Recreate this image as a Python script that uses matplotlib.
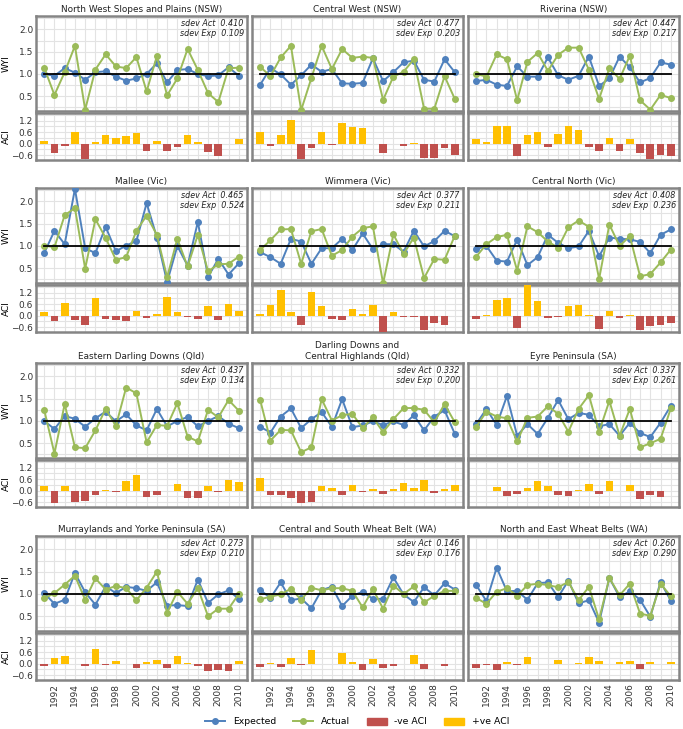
import matplotlib
matplotlib.use('Agg')
import matplotlib.pyplot as plt
from matplotlib.lines import Line2D
from matplotlib.patches import Patch
from matplotlib.ticker import MultipleLocator

years = list(range(1991, 2011))

titles = [
    'North West Slopes and Plains (NSW)', 'Central West (NSW)', 'Riverina (NSW)',
    'Mallee (Vic)', 'Wimmera (Vic)', 'Central North (Vic)',
    'Eastern Darling Downs (Qld)', 'Darling Downs and\nCentral Highlands (Qld)', 'Eyre Peninsula (SA)',
    'Murraylands and Yorke Peninsula (SA)', 'Central and South Wheat Belt (WA)', 'North and East Wheat Belts (WA)',
]
sdev_act = [0.410, 0.477, 0.447, 0.465, 0.377, 0.408, 0.437, 0.332, 0.337, 0.273, 0.146, 0.260]
sdev_exp = [0.109, 0.203, 0.217, 0.524, 0.211, 0.236, 0.134, 0.200, 0.261, 0.210, 0.176, 0.290]

# expected / actual wheat yield index and ACI per region
nw_exp = [1.00, 0.96, 1.13, 1.03, 0.87, 1.04, 1.06, 0.94, 0.85, 0.90, 1.00, 1.24, 0.81, 1.09, 1.11, 1.00, 0.95, 0.97, 1.15, 0.96]
nw_act = [1.14, 0.53, 1.04, 1.63, 0.20, 1.10, 1.44, 1.17, 1.13, 1.38, 0.61, 1.40, 0.52, 0.90, 1.56, 1.09, 0.57, 0.37, 1.13, 1.14]
nw_aci = [0.16, -0.47, -0.11, 0.63, -0.80, 0.09, 0.43, 0.29, 0.38, 0.57, -0.38, 0.16, -0.36, -0.16, 0.43, 0.11, -0.41, -0.63, -0.04, 0.25]

cw_exp = [0.76, 1.13, 0.99, 0.76, 0.97, 1.21, 1.05, 1.11, 0.79, 0.78, 0.80, 1.35, 0.84, 1.04, 1.26, 1.30, 0.87, 0.83, 1.33, 1.04]
cw_act = [1.16, 0.95, 1.37, 1.63, 0.19, 0.91, 1.63, 1.11, 1.56, 1.36, 1.39, 1.36, 0.42, 0.94, 1.05, 1.33, 0.22, 0.22, 0.95, 0.44]
cw_aci = [0.59, -0.11, 0.45, 1.25, -0.82, -0.21, 0.63, -0.05, 1.09, 0.86, 0.81, 0.00, -0.50, -0.04, -0.14, 0.03, -0.73, -0.73, -0.25, -0.57]

riv_exp = [0.84, 0.87, 0.76, 0.73, 1.17, 0.94, 0.94, 1.37, 0.97, 0.87, 0.96, 1.39, 0.73, 0.90, 1.39, 1.15, 0.81, 0.91, 1.26, 1.21]
riv_act = [1.00, 0.94, 1.44, 1.33, 0.41, 1.27, 1.47, 1.07, 1.43, 1.59, 1.59, 1.10, 0.44, 1.13, 0.89, 1.41, 0.41, 0.20, 0.53, 0.46]
riv_aci = [0.22, 0.11, 0.93, 0.90, -0.65, 0.43, 0.63, -0.18, 0.52, 0.90, 0.72, -0.18, -0.38, 0.30, -0.36, 0.25, -0.50, -0.80, -0.59, -0.63]

mal_exp = [0.84, 1.34, 1.04, 2.28, 0.95, 0.84, 1.43, 0.88, 1.01, 1.11, 1.96, 1.19, 0.19, 1.00, 0.56, 1.54, 0.31, 0.71, 0.36, 0.61]
mal_act = [1.01, 0.97, 1.69, 1.85, 0.49, 1.60, 1.18, 0.69, 0.75, 1.34, 1.68, 1.25, 0.30, 1.16, 0.54, 1.25, 0.43, 0.59, 0.60, 0.76]
mal_aci = [0.18, -0.30, 0.65, -0.21, -0.51, 0.92, -0.19, -0.25, -0.26, 0.23, -0.14, 0.07, 0.97, 0.18, -0.07, -0.19, 0.48, -0.21, 0.62, 0.23]

wim_exp = [0.86, 0.75, 0.60, 1.16, 1.10, 0.60, 0.95, 0.95, 1.16, 0.91, 1.28, 0.93, 1.04, 1.04, 0.87, 1.34, 0.99, 1.11, 1.34, 1.22]
wim_act = [0.91, 1.13, 1.37, 1.38, 0.60, 1.33, 1.38, 0.78, 0.91, 1.21, 1.40, 1.44, 0.16, 1.26, 0.82, 1.19, 0.28, 0.71, 0.69, 1.23]
wim_aci = [0.07, 0.55, 1.32, 0.18, -0.46, 1.25, 0.48, -0.18, -0.23, 0.34, 0.11, 0.56, -0.90, 0.19, -0.05, -0.09, -0.74, -0.37, -0.49, 0.01]

cn_exp = [0.93, 1.00, 0.67, 0.65, 1.14, 0.57, 0.75, 1.25, 1.07, 0.95, 0.99, 1.34, 0.77, 1.19, 1.16, 1.15, 1.09, 0.84, 1.25, 1.37]
cn_act = [0.76, 1.04, 1.20, 1.25, 0.45, 1.44, 1.31, 1.10, 0.96, 1.42, 1.57, 1.43, 0.26, 1.48, 1.00, 1.22, 0.32, 0.37, 0.63, 0.92]
cn_aci = [-0.18, 0.05, 0.81, 0.93, -0.63, 1.65, 0.76, -0.12, -0.09, 0.49, 0.58, 0.05, -0.69, 0.25, -0.14, 0.05, -0.72, -0.56, -0.51, -0.37]

edd_exp = [1.00, 0.82, 1.11, 1.05, 0.87, 1.06, 1.21, 0.99, 1.15, 0.90, 0.79, 1.27, 0.88, 1.00, 1.09, 0.88, 1.00, 1.11, 0.94, 0.84]
edd_act = [1.25, 0.27, 1.38, 0.41, 0.39, 0.79, 1.27, 0.89, 1.75, 1.62, 0.52, 0.91, 0.89, 1.40, 0.65, 0.54, 1.25, 1.08, 1.47, 1.23]
edd_aci = [0.25, -0.63, 0.25, -0.58, -0.53, -0.23, 0.03, -0.08, 0.50, 0.82, -0.33, -0.25, 0.01, 0.37, -0.38, -0.38, 0.25, -0.05, 0.55, 0.45]

ddc_exp = [0.87, 0.74, 1.10, 1.28, 0.84, 1.04, 1.20, 0.87, 1.49, 0.86, 0.90, 0.99, 0.91, 0.99, 0.91, 1.13, 0.79, 1.10, 1.24, 0.71]
ddc_act = [1.47, 0.56, 0.80, 0.79, 0.30, 0.41, 1.49, 1.01, 1.13, 1.16, 0.84, 1.08, 0.75, 1.04, 1.29, 1.29, 1.25, 0.97, 1.38, 0.97]
ddc_aci = [0.65, -0.23, -0.23, -0.38, -0.63, -0.60, 0.23, 0.15, -0.22, 0.32, -0.07, 0.08, -0.17, 0.07, 0.40, 0.12, 0.57, -0.12, 0.08, 0.30]

eyre_exp = [0.93, 1.27, 0.91, 1.56, 0.67, 0.93, 0.71, 1.07, 1.47, 1.04, 1.18, 1.14, 0.88, 0.93, 0.67, 0.96, 0.73, 0.64, 0.96, 1.34]
eyre_act = [0.87, 1.21, 1.10, 1.06, 0.54, 1.07, 1.10, 1.33, 1.16, 0.76, 1.27, 1.58, 0.76, 1.45, 0.67, 1.27, 0.41, 0.50, 0.60, 1.28]
eyre_aci = [-0.03, -0.03, 0.20, -0.30, -0.18, 0.13, 0.52, 0.23, -0.20, -0.27, 0.05, 0.37, -0.15, 0.53, -0.02, 0.32, -0.42, -0.20, -0.33, -0.02]

mur_exp = [1.02, 0.78, 0.87, 1.47, 1.04, 0.76, 1.17, 1.02, 1.16, 1.13, 1.07, 1.26, 0.74, 0.75, 0.73, 1.32, 0.80, 0.99, 1.08, 0.89]
mur_act = [0.90, 1.02, 1.21, 1.41, 0.87, 1.35, 1.10, 1.18, 1.13, 0.86, 1.14, 1.50, 0.58, 1.05, 0.78, 1.13, 0.50, 0.67, 0.67, 1.00]
mur_aci = [-0.10, 0.32, 0.39, -0.03, -0.12, 0.78, -0.05, 0.16, -0.02, -0.25, 0.07, 0.19, -0.21, 0.41, 0.05, -0.12, -0.37, -0.34, -0.37, 0.12]

csw_exp = [1.09, 0.91, 1.26, 0.86, 0.90, 0.68, 1.09, 1.16, 0.73, 0.96, 1.05, 0.89, 0.89, 1.37, 0.99, 0.82, 1.15, 0.97, 1.24, 1.10]
csw_act = [0.88, 0.94, 0.99, 1.12, 0.87, 1.14, 1.08, 1.13, 1.13, 1.07, 0.70, 1.11, 0.67, 1.19, 1.00, 1.17, 0.81, 0.96, 1.07, 1.07]
csw_aci = [-0.16, 0.05, -0.16, 0.32, -0.07, 0.71, -0.04, -0.04, 0.55, 0.11, -0.32, 0.25, -0.25, -0.12, 0.00, 0.46, -0.30, 0.00, -0.14, 0.00]

new_exp = [1.20, 0.84, 1.59, 1.06, 1.07, 0.87, 1.24, 1.26, 0.93, 1.30, 0.79, 0.86, 0.36, 1.36, 0.93, 1.06, 0.87, 0.49, 1.27, 0.85]
new_act = [0.91, 0.78, 1.05, 1.13, 0.96, 1.20, 1.23, 1.20, 1.15, 1.27, 0.86, 1.16, 0.43, 1.36, 0.97, 1.23, 0.56, 0.51, 1.23, 0.95]
new_aci = [-0.25, -0.05, -0.35, 0.07, -0.09, 0.37, -0.02, -0.04, 0.21, 0.00, 0.04, 0.37, 0.14, 0.00, 0.07, 0.14, -0.30, 0.11, -0.01, 0.11]

expected = [nw_exp, cw_exp, riv_exp, mal_exp, wim_exp, cn_exp, edd_exp, ddc_exp, eyre_exp, mur_exp, csw_exp, new_exp]
actual = [nw_act, cw_act, riv_act, mal_act, wim_act, cn_act, edd_act, ddc_act, eyre_act, mur_act, csw_act, new_act]
aci = [nw_aci, cw_aci, riv_aci, mal_aci, wim_aci, cn_aci, edd_aci, ddc_aci, eyre_aci, mur_aci, csw_aci, new_aci]

BLUE = '#4F81BD'
GREEN = '#9BBB59'
RED = '#C0504D'
GOLD = '#FFC000'
FRAME = '#858585'
GRID = '#e3e3e3'

W, H = 683, 729


def pos(left, top, w, h):
    return [left / W, 1 - (top + h) / H, w / W, h / H]


def style_axes(ax):
    for sp in ax.spines.values():
        sp.set_color(FRAME)
        sp.set_linewidth(1.8)
    ax.set_xlim(1990.2, 2010.8)
    ax.xaxis.set_major_locator(MultipleLocator(2))
    ax.xaxis.set_minor_locator(MultipleLocator(1))
    ax.grid(True, which='both', color=GRID, linewidth=0.8)
    ax.set_axisbelow(True)
    ax.tick_params(which='both', length=0, labelsize=6.5, colors='#333333', pad=2)


plt.rcParams['font.family'] = 'DejaVu Sans'
fig = plt.figure(figsize=(W / 100, H / 100), dpi=100)

col_left = [36, 252, 468]
col_w = 211
row_top = [16, 188, 363, 536]

for i in range(12):
    r, c = divmod(i, 3)
    ax = fig.add_axes(pos(col_left[c], row_top[r], col_w, 95))
    bx = fig.add_axes(pos(col_left[c], row_top[r] + 97, col_w, 47))
    style_axes(ax)
    style_axes(bx)

    ax.plot(years, expected[i], '-o', color=BLUE, lw=1.4, ms=4, zorder=3)
    ax.plot(years, actual[i], '-o', color=GREEN, lw=1.4, ms=4, zorder=3)
    ax.plot([years[0], years[-1]], [1, 1], color='black', lw=1.3, zorder=4)
    ax.set_ylim(0.17, 2.3)
    ax.yaxis.set_major_locator(MultipleLocator(0.5))
    ax.yaxis.set_minor_locator(MultipleLocator(0.25))
    ax.set_title(titles[i], fontsize=6.4, color='#222222', pad=3)
    ax.text(0.985, 0.965, 'sdev Act  %.3f\nsdev Exp  %.3f' % (sdev_act[i], sdev_exp[i]),
            transform=ax.transAxes, ha='right', va='top', fontsize=5.8,
            style='italic', color='#222222', linespacing=1.1)
    ax.tick_params(labelbottom=False)

    cols = [GOLD if v >= 0 else RED for v in aci[i]]
    bx.bar(years, aci[i], width=0.75, color=cols, zorder=3)
    bx.set_ylim(-0.85, 1.6)
    bx.yaxis.set_major_locator(MultipleLocator(0.6))
    bx.yaxis.set_minor_locator(MultipleLocator(0.3))

    if c == 0:
        ax.set_ylabel('WYI', fontsize=6.5, va='center')
        bx.set_ylabel('ACI', fontsize=6.5, va='center')
        ax.yaxis.set_label_coords(-0.142, 0.5)
        bx.yaxis.set_label_coords(-0.142, 0.5)
    else:
        ax.tick_params(labelleft=False)
        bx.tick_params(labelleft=False)
    if r == 3:
        bx.tick_params(axis='x', labelrotation=90)
    else:
        bx.tick_params(labelbottom=False)

handles = [
    Line2D([], [], color=BLUE, marker='o', lw=1.4, ms=4),
    Line2D([], [], color=GREEN, marker='o', lw=1.4, ms=4),
    Patch(color=RED),
    Patch(color=GOLD),
]
fig.legend(handles, ['Expected', 'Actual', '-ve ACI', '+ve ACI'], loc='center',
           bbox_to_anchor=(357 / W, 1 - 722 / H), ncol=4, frameon=False,
           fontsize=6.7, handlelength=2.2, columnspacing=1.8)

fig.savefig('out.png', dpi=100)
